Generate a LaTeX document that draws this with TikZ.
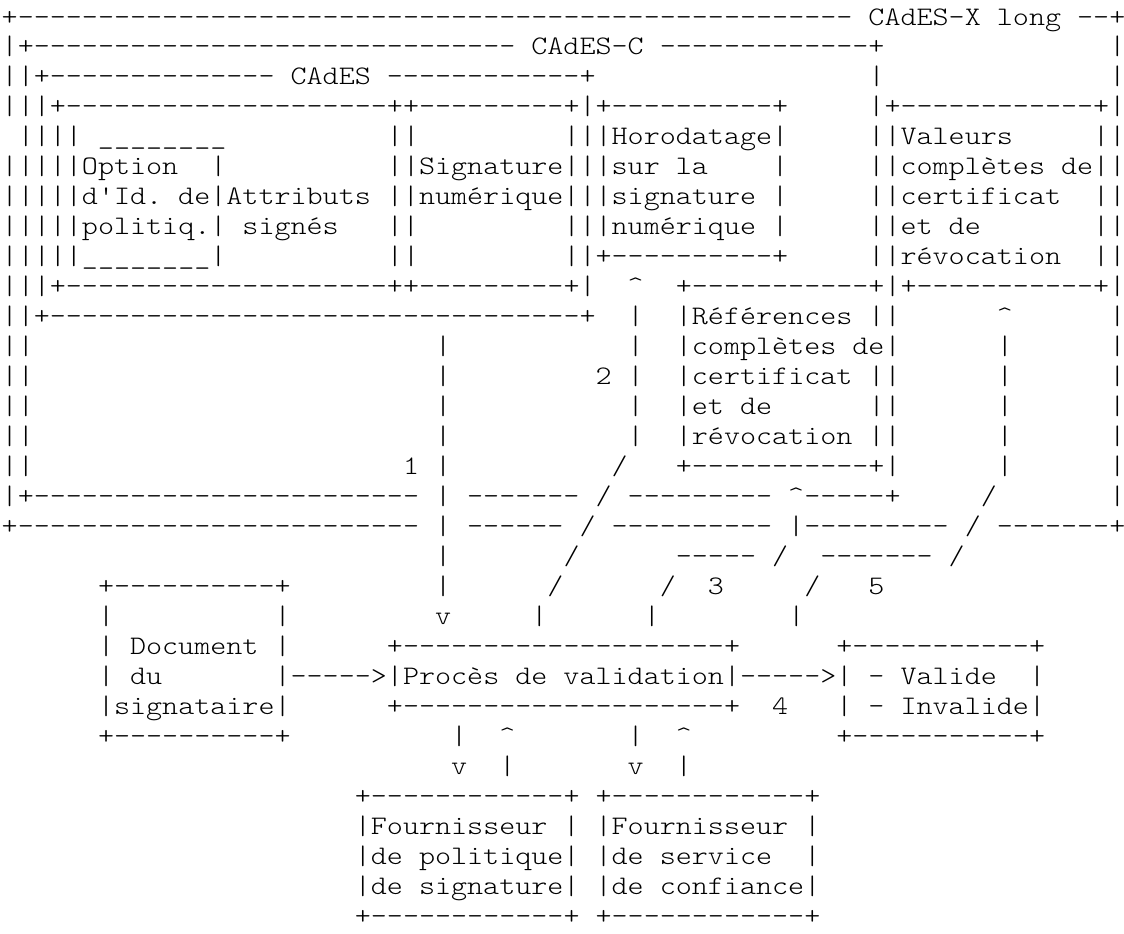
\documentclass[tikz,border=0pt]{standalone}
\usepackage{fontspec}
\setmonofont{lmmonolt10-regular}[Extension=.otf, FakeStretch=1.143]
\usepackage{tikz}

\ExplSyntaxOn
\NewExpandableDocumentCommand\repete{mm}{\prg_replicate:nn{#1}{#2}}
\ExplSyntaxOff
\newcommand\tirets[1]{\repete{#1}{-}}
\newcommand\blancs[1]{\repete{#1}{~}}
\newcommand\souligne{\repete{8}{\_}}
\newcommand\pointe{\textasciicircum}

\tikzset{ligne/.style={font=\ttfamily\fontsize{13.375}{16}\selectfont, anchor=base west, inner sep=0pt, outer sep=0pt, text=black}}

\begin{document}
\begin{tikzpicture}[x=0.5pt, y=-0.5pt]
        \def\xo{1.7}
        \def\yo{25}
        \def\pas{29.97}
        \useasboundingbox[fill=white] (0,0) rectangle (1124,933);

        % Draw nested CAdES frames (top rows)
        \node[ligne] (ligne00) at (\xo,{\yo+0*\pas}) {+\tirets{52}~CAdES-X~long~--+};
        \node[ligne] (ligne01) at (\xo,{\yo+1*\pas}) {|+\tirets{30}~CAdES-C~\tirets{13}+\blancs{14}|};
        \node[ligne] (ligne02) at (\xo,{\yo+2*\pas}) {||+\tirets{14}~CAdES~\tirets{12}+\blancs{17}|\blancs{14}|};
        \node[ligne] (ligne03) at (\xo,{\yo+3*\pas}) {|||+\tirets{20}++\tirets{9}+|+\tirets{10}+\blancs{5}|+\tirets{12}+|};

        % Draw signed attributes, signature, timestamp and values boxes
        \node[ligne] (ligne04) at (\xo,{\yo+4*\pas}) {~||||~\souligne\blancs{10}||\blancs{9}|||Horodatage|\blancs{5}||Valeurs\blancs{5}||};
        \node[ligne] (ligne05) at (\xo,{\yo+5*\pas}) {|||||Option~~|\blancs{10}||Signature|||sur~la\blancs{4}|\blancs{5}||complètes~de||};
        \node[ligne] (ligne06) at (\xo,{\yo+6*\pas}) {|||||d'Id.~de|Attributs~||numérique|||signature~|\blancs{5}||certificat~~||};
        \node[ligne] (ligne07) at (\xo,{\yo+7*\pas}) {|||||politiq.|~signés\blancs{3}||\blancs{9}|||numérique~|\blancs{5}||et~de\blancs{7}||};
        \node[ligne] (ligne08) at (\xo,{\yo+8*\pas}) {|||||\souligne|\blancs{10}||\blancs{9}||+\tirets{10}+\blancs{5}||révocation~~||};
        \node[ligne] (ligne09) at (\xo,{\yo+9*\pas}) {|||+\tirets{20}++\tirets{9}+|~~\pointe~~+\tirets{11}+|+\tirets{11}+|};

        % Draw references box and arrows 1, 2, 5
        \node[ligne] (ligne10) at (\xo,{\yo+10*\pas}) {||+\tirets{33}+~~|~~|Références~||\blancs{6}\pointe\blancs{6}|};
        \node[ligne] (ligne11) at (\xo,{\yo+11*\pas}) {||\blancs{25}|\blancs{11}|~~|complètes~de|\blancs{6}|\blancs{6}|};
        \node[ligne] (ligne12) at (\xo,{\yo+12*\pas}) {||\blancs{25}|\blancs{9}2~|~~|certificat~||\blancs{6}|\blancs{6}|};
        \node[ligne] (ligne13) at (\xo,{\yo+13*\pas}) {||\blancs{25}|\blancs{11}|~~|et~de\blancs{6}||\blancs{6}|\blancs{6}|};
        \node[ligne] (ligne14) at (\xo,{\yo+14*\pas}) {||\blancs{25}|\blancs{11}|~~|révocation~||\blancs{6}|\blancs{6}|};
        \node[ligne] (ligne15) at (\xo,{\yo+15*\pas}) {||\blancs{23}1~|\blancs{10}/\blancs{3}+\tirets{11}+|\blancs{6}|\blancs{6}|};

        % Draw bottom edges of CAdES-C and CAdES-X long
        \node[ligne] (ligne16) at (\xo,{\yo+16*\pas}) {|+\tirets{24}~|~\tirets{7}~/~\tirets{9}~\pointe\tirets{5}+\blancs{5}/\blancs{7}|};
        \node[ligne] (ligne17) at (\xo,{\yo+17*\pas}) {+\tirets{25}~|~\tirets{6}~/~\tirets{10}~|\tirets{9}~/~\tirets{7}+};
        \node[ligne] (ligne18) at (\xo,{\yo+18*\pas}) {\blancs{27}|\blancs{7}/\blancs{6}\tirets{5}~/~~\tirets{7}~/};
        \node[ligne] (ligne19) at (\xo,{\yo+19*\pas}) {\blancs{6}+\tirets{10}+\blancs{9}|\blancs{6}/\blancs{6}/~~3\blancs{5}/\blancs{3}5};
        \node[ligne] (ligne20) at (\xo,{\yo+20*\pas}) {\blancs{6}|\blancs{10}|\blancs{9}v\blancs{5}|\blancs{6}|\blancs{8}|};

        % Draw document, validation process and result boxes
        \node[ligne] (ligne21) at (\xo,{\yo+21*\pas}) {\blancs{6}|~Document~|\blancs{6}+\tirets{20}+\blancs{6}+\tirets{11}+};
        \node[ligne] (ligne22) at (\xo,{\yo+22*\pas}) {\blancs{6}|~du\blancs{7}|----->|Procès~de~validation|----->|~-~Valide~~|};
        \node[ligne] (ligne23) at (\xo,{\yo+23*\pas}) {\blancs{6}|signataire|\blancs{6}+\tirets{20}+~~4~~~|~-~Invalide|};
        \node[ligne] (ligne24) at (\xo,{\yo+24*\pas}) {\blancs{6}+\tirets{10}+\blancs{10}|~~\pointe\blancs{7}|~~\pointe\blancs{9}+\tirets{11}+};
        \node[ligne] (ligne25) at (\xo,{\yo+25*\pas}) {\blancs{28}v~~|\blancs{7}v~~|};

        % Draw provider boxes
        \node[ligne] (ligne26) at (\xo,{\yo+26*\pas}) {\blancs{22}+\tirets{12}+~+\tirets{12}+};
        \node[ligne] (ligne27) at (\xo,{\yo+27*\pas}) {\blancs{22}|Fournisseur~|~|Fournisseur~|};
        \node[ligne] (ligne28) at (\xo,{\yo+28*\pas}) {\blancs{22}|de~politique|~|de~service~~|};
        \node[ligne] (ligne29) at (\xo,{\yo+29*\pas}) {\blancs{22}|de~signature|~|de~confiance|};
        \node[ligne] (ligne30) at (\xo,{\yo+30*\pas}) {\blancs{22}+\tirets{12}+~+\tirets{12}+};
    \end{tikzpicture}
\end{document}
